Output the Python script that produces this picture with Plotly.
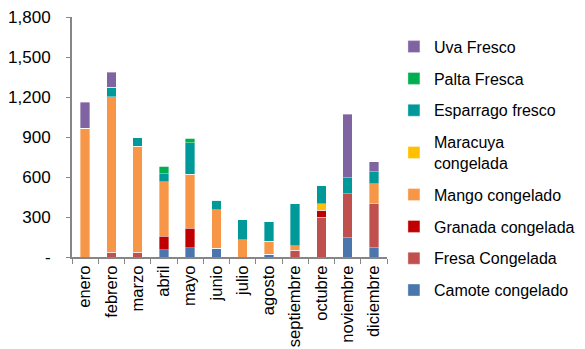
import plotly.graph_objects as go

meses = ["enero", "febrero", "marzo", "abril", "mayo", "junio", "julio",
         "agosto", "septiembre", "octubre", "noviembre", "diciembre"]

camote    = [0, 0, 0, 55, 70, 67, 0, 22, 0, 0, 145, 70]
fresa     = [0, 37, 37, 0, 0, 0, 0, 0, 52, 298, 331, 328]
granada   = [0, 0, 0, 100, 145, 0, 0, 0, 0, 52, 0, 0]
mango     = [965, 1166, 795, 408, 406, 289, 130, 95, 33, 0, 0, 150]
maracuya  = [0, 0, 0, 0, 0, 0, 0, 0, 0, 50, 0, 0]
esparrago = [0, 70, 62, 63, 236, 70, 148, 146, 315, 133, 117, 90]
palta     = [0, 0, 0, 55, 33, 0, 0, 0, 0, 0, 0, 0]
uva       = [195, 113, 0, 0, 0, 0, 0, 0, 0, 0, 477, 76]

series = [
    ("Camote congelado", camote, "#4A76AD"),
    ("Fresa Congelada", fresa, "#C0504D"),
    ("Granada congelada", granada, "#C00000"),
    ("Mango congelado", mango, "#F79646"),
    ("Maracuya<br>congelada", maracuya, "#FFC000"),
    ("Esparrago fresco", esparrago, "#009999"),
    ("Palta Fresca", palta, "#00B050"),
    ("Uva Fresco", uva, "#8064A2"),
]

y_ticks = [0, 300, 600, 900, 1200, 1500, 1800]
y_labels = ["-", "300", "600", "900", "1,200", "1,500", "1,800"]

fig = go.Figure()
for i, (name, vals, color) in enumerate(series):
    fig.add_trace(go.Bar(
        x=meses, y=vals, name=name, legendgroup=name, legendrank=100 - i,
        marker=dict(color=color, line=dict(width=0.6, color="rgba(255,255,255,0.6)")),
    ))

font = "Liberation Sans, Arial, sans-serif"
fig.update_layout(
    barmode="stack",
    bargap=0.63,
    width=585, height=349,
    margin=dict(l=72, r=198, t=17, b=92, autoexpand=False),
    paper_bgcolor="white", plot_bgcolor="white",
    font=dict(family=font, size=16, color="#000000"),
    legend=dict(
        x=1.022, y=0.947, xanchor="left", yanchor="top",
        traceorder="grouped", tracegroupgap=8,
        font=dict(size=16), itemwidth=30, maxheight=330,
    ),
    xaxis=dict(
        tickangle=-90, ticks="outside", tickson="boundaries", ticklen=5,
        tickcolor="#868686", showline=True, linecolor="#868686", linewidth=2,
        tickfont=dict(size=16.5), automargin=False,
    ),
    yaxis=dict(
        range=[0, 1800], tickvals=y_ticks, ticktext=y_labels,
        ticks="outside", ticklen=4, tickcolor="#868686",
        showline=True, linecolor="#868686", linewidth=2,
        showgrid=False, zeroline=False, tickfont=dict(size=17),
        ticklabelstandoff=12, automargin=False,
    ),
)

fig.write_html("out.html")
